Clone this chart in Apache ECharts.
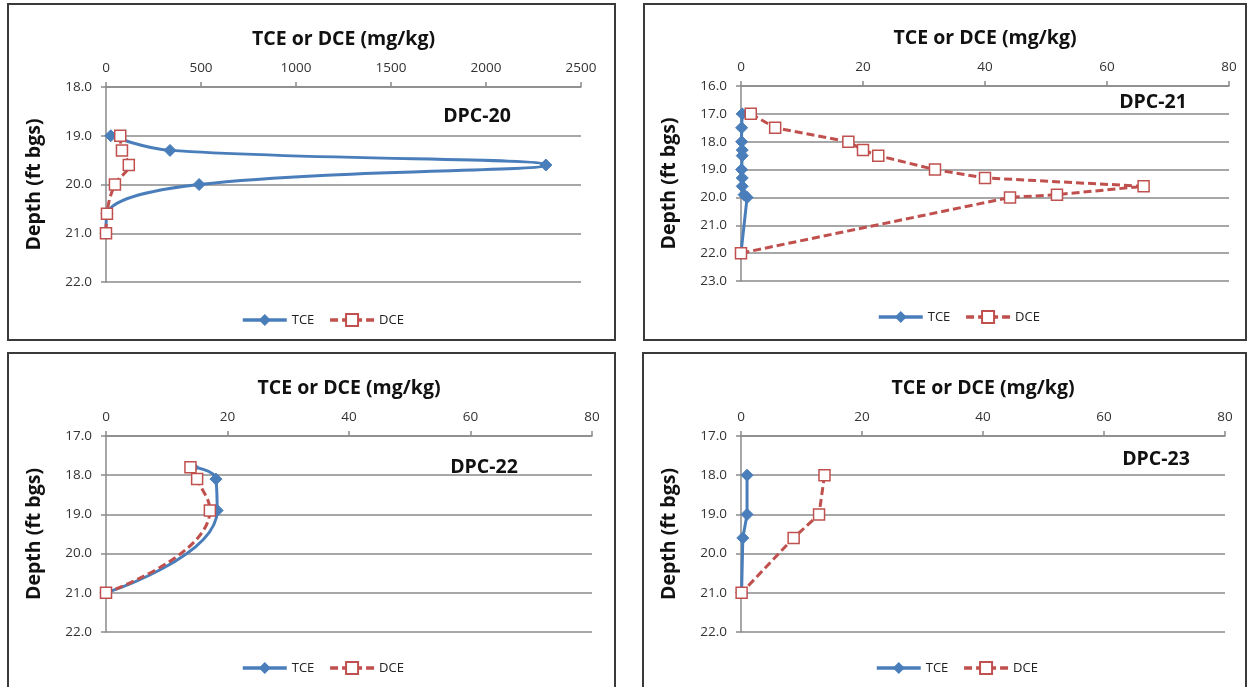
<!DOCTYPE html>
<html>
<head>
<meta charset="utf-8">
<script src="https://cdn.jsdelivr.net/npm/echarts@6/dist/echarts.min.js"></script>
<style>html,body{margin:0;padding:0;background:#fff;}#c{width:1251px;height:687px;}</style>
</head>
<body>
<div id="c"></div>
<script>
// ---- Data ----
const xTitle = 'TCE or DCE (mg/kg)';
const yTitle = 'Depth (ft bgs)';
const panelNames = ['DPC-20', 'DPC-21', 'DPC-22', 'DPC-23'];

// DPC-20
const d20Depth = [19.0, 19.3, 19.6, 20.0, 20.6, 21.0];
const d20TCE   = [25, 337, 2315, 490, 5, 0];
const d20DCE   = [75, 84, 120, 47, 5, 0];

// DPC-21
const d21Depth = [17.0, 17.5, 18.0, 18.3, 18.5, 19.0, 19.3, 19.6, 19.9, 20.0, 22.0];
const d21TCE   = [0.2, 0.1, 0.1, 0.2, 0.2, 0.1, 0.2, 0.2, 0.5, 1.0, 0.0];
const d21DCE   = [1.6, 5.6, 17.6, 20.0, 22.5, 31.8, 40.0, 66.0, 51.8, 44.1, 0.0];

// DPC-22
const d22Depth = [17.8, 18.1, 18.9, 21.0];
const d22TCE   = [14.3, 18.1, 18.3, 0.0];
const d22DCE   = [13.9, 15.0, 17.1, 0.0];

// DPC-23
const d23Depth = [18.0, 19.0, 19.6, 21.0];
const d23TCE   = [1.0, 1.0, 0.3, 0.1];
const d23DCE   = [13.8, 12.9, 8.7, 0.1];

// Axis ranges
const xMax  = [2500, 80, 80, 80];
const xStep = [500, 20, 20, 20];
const yMin  = [18, 16, 17, 17];
const yMax  = [22, 23, 22, 22];

// ---- Layout / style ----
const grids = [
  {left: 106, top: 87,  width: 475, height: 195},
  {left: 741, top: 86,  width: 488, height: 195},
  {left: 106, top: 436, width: 486, height: 196},
  {left: 741, top: 436, width: 484, height: 196}
];
const frames = [
  [8, 4, 607, 336], [644, 4, 602, 336], [8, 353, 607, 340], [643, 353, 603, 340]
];
const labelPos = [[477, 116], [1153, 102], [484, 467], [1156, 459]];
const legendTop = [308, 305, 656, 656];
const legendLeft = [236, 872, 236, 870];
const smoothVals = [0.4, false, 0.5, false];

const FONT = 'Open Sans';
const BLUE = '#4a7ebb';
const RED = '#c0504d';
const GRID = '#8a8a8a';

const sets = [
  [d20Depth, d20TCE, d20DCE],
  [d21Depth, d21TCE, d21DCE],
  [d22Depth, d22TCE, d22DCE],
  [d23Depth, d23TCE, d23DCE]
];

const xAxes = [], yAxes = [], series = [], legends = [], graphics = [];
for (let i = 0; i < 4; i++) {
  xAxes.push({
    type: 'value', gridIndex: i, position: 'top', min: 0, max: xMax[i], interval: xStep[i],
    name: xTitle, nameLocation: 'middle', nameGap: 38,
    nameTextStyle: {fontFamily: FONT, fontWeight: 'bold', fontSize: 19.5, color: '#111'},
    axisLine: {show: true, onZero: false, lineStyle: {color: GRID, width: 1.5}},
    axisTick: {show: true, inside: false, length: 5, lineStyle: {color: GRID, width: 1.5}},
    axisLabel: {fontFamily: FONT, fontSize: 13.5, color: '#333', margin: 12,
      formatter: v => String(v)},
    splitLine: {show: false}
  });
  yAxes.push({
    type: 'value', gridIndex: i, inverse: true, min: yMin[i], max: yMax[i], interval: 1,
    name: yTitle, nameLocation: 'middle', nameGap: 62, nameRotate: 90,
    nameTextStyle: {fontFamily: FONT, fontWeight: 'bold', fontSize: 19.5, color: '#111'},
    axisLine: {show: true, onZero: false, lineStyle: {color: GRID, width: 1.5}},
    axisTick: {show: true, inside: false, length: 5, lineStyle: {color: GRID, width: 1.5}},
    axisLabel: {fontFamily: FONT, fontSize: 13.5, color: '#333', margin: 14,
      formatter: v => v.toFixed(1)},
    splitLine: {show: true, lineStyle: {color: GRID, width: 1.5}}
  });
  const [dep, tce, dce] = sets[i];
  series.push({
    name: 'TCE', type: 'line', xAxisIndex: i, yAxisIndex: i,
    data: dep.map((d, k) => [tce[k], d]),
    smooth: smoothVals[i],
    symbol: 'diamond', symbolSize: 12,
    lineStyle: {color: BLUE, width: 3},
    itemStyle: {color: BLUE, borderColor: BLUE},
    z: 3
  });
  series.push({
    name: 'DCE', type: 'line', xAxisIndex: i, yAxisIndex: i,
    data: dep.map((d, k) => [dce[k], d]),
    smooth: smoothVals[i],
    symbol: 'rect', symbolSize: 11,
    lineStyle: {color: RED, width: 3, type: [8, 4]},
    itemStyle: {color: '#fff', borderColor: RED, borderWidth: 1.5},
    z: 4
  });
  legends.push({
    top: legendTop[i], left: legendLeft[i], itemWidth: 44, itemHeight: 15, itemGap: 14,
    data: ['TCE', 'DCE'],
    lineStyle: {width: 3.5},
    textStyle: {fontFamily: FONT, fontSize: 13, color: '#222'}
  });
  graphics.push({
    type: 'rect', shape: {x: frames[i][0], y: frames[i][1], width: frames[i][2], height: frames[i][3]},
    style: {fill: 'none', stroke: '#3a3a3a', lineWidth: 2}, silent: true
  });
  graphics.push({
    type: 'text', x: labelPos[i][0], y: labelPos[i][1],
    style: {text: panelNames[i], font: 'bold 19.5px "' + FONT + '"', fill: '#111',
      align: 'center', verticalAlign: 'middle'}
  });
}

const chart = echarts.init(document.getElementById('c'), null, {renderer: 'canvas'});
chart.setOption({
  animation: false,
  backgroundColor: '#fff',
  grid: grids,
  xAxis: xAxes,
  yAxis: yAxes,
  series: series,
  legend: legends,
  graphic: graphics
});
</script>
</body>
</html>
